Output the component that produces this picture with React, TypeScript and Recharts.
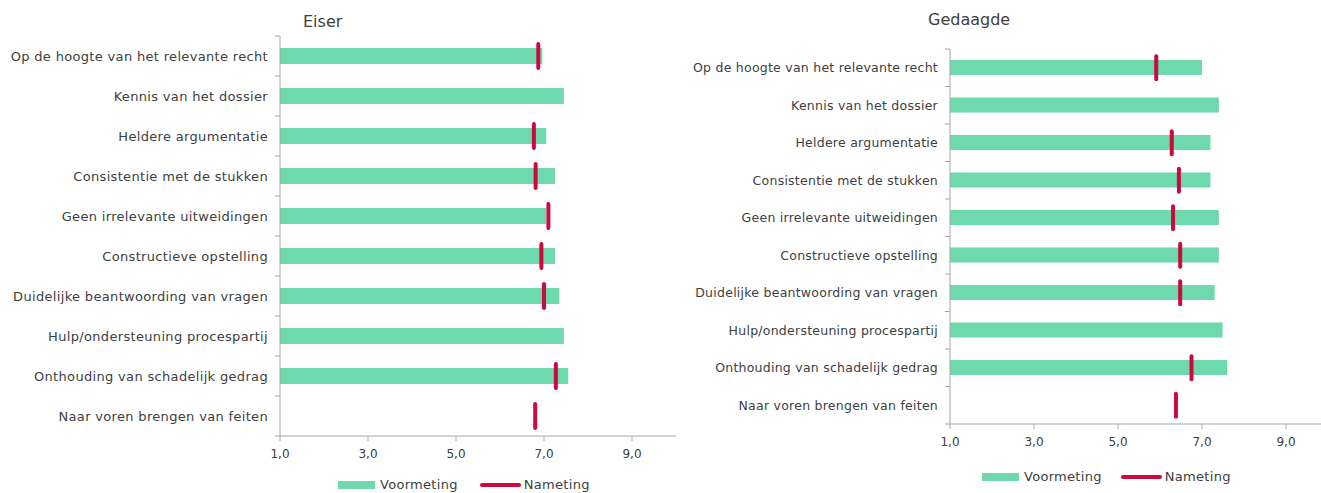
import {
  ComposedChart,
  Bar,
  Scatter,
  XAxis,
  YAxis,
} from "recharts";

const categories = [
  "Op de hoogte van het relevante recht",
  "Kennis van het dossier",
  "Heldere argumentatie",
  "Consistentie met de stukken",
  "Geen irrelevante uitweidingen",
  "Constructieve opstelling",
  "Duidelijke beantwoording van vragen",
  "Hulp/ondersteuning procespartij",
  "Onthouding van schadelijk gedrag",
  "Naar voren brengen van feiten",
];

// Eiser
const eiserVoormeting = [6.96, 7.45, 7.05, 7.25, 7.05, 7.25, 7.35, 7.45, 7.55, null];
const eiserNameting = [6.87, null, 6.77, 6.81, 7.1, 6.94, 7.0, null, 7.27, 6.8];

// Gedaagde
const gedaagdeVoormeting = [7.0, 7.4, 7.2, 7.2, 7.4, 7.4, 7.3, 7.49, 7.6, null];
const gedaagdeNameting = [5.91, null, 6.28, 6.45, 6.31, 6.48, 6.48, null, 6.75, 6.38];

const xTicks = [1, 3, 5, 7, 9];

const GREEN = "#6dd9ad";
const RED = "#cc0a3e";
const AXIS = "#a6a6a6";
const TEXT = "#404040";
const FONT = "'DejaVu Sans', Verdana, sans-serif";

const buildRows = (voor: (number | null)[], na: (number | null)[]) =>
  categories.map((name, i) => ({ name, voor: voor[i], na: na[i] }));

const eiserRows = buildRows(eiserVoormeting, eiserNameting);
const gedaagdeRows = buildRows(gedaagdeVoormeting, gedaagdeNameting);

type PanelProps = {
  rows: { name: string; voor: number | null; na: number | null }[];
  width: number;
  height: number;
  axisX: number; // left edge of plot inside svg
  top: number;
  plotBottom: number;
  barSize: number;
  markerH: number;
  labelSize: number;
  labelSpacing: number;
};

const Panel = ({
  rows, width, height, axisX, top, plotBottom, barSize, markerH, labelSize, labelSpacing,
}: PanelProps) => {
  const band = (plotBottom - top) / rows.length;

  // category labels, plus the small ticks between the bands (Excel style)
  const CatTick = (props: any) => {
    const { y, payload, index } = props;
    return (
      <g>
        <line x1={axisX - 5} x2={axisX} y1={y - band / 2} y2={y - band / 2} stroke={AXIS} />
        {index === rows.length - 1 && (
          <line x1={axisX - 5} x2={axisX} y1={y + band / 2} y2={y + band / 2} stroke={AXIS} />
        )}
        <text
          x={axisX - 12}
          y={y}
          dy={4.5}
          textAnchor="end"
          fill={TEXT}
          fontSize={labelSize}
          letterSpacing={labelSpacing}
          fontFamily={FONT}
        >
          {payload.value}
        </text>
      </g>
    );
  };

  const Marker = (props: any) => {
    const { cx, cy, payload } = props;
    if (payload?.na == null || cx == null || Number.isNaN(cx)) return <g />;
    return (
      <line
        x1={cx}
        x2={cx}
        y1={cy - markerH / 2}
        y2={cy + markerH / 2}
        stroke={RED}
        strokeWidth={4}
        strokeLinecap="round"
      />
    );
  };

  return (
    <ComposedChart
      layout="vertical"
      width={width}
      height={height}
      data={rows}
      margin={{ top, right: 0, left: 0, bottom: height - plotBottom - 30 }}
      style={{ fontFamily: FONT }}
    >
      <XAxis
        type="number"
        domain={[1, 10]}
        ticks={xTicks}
        allowDataOverflow
        height={30}
        tickSize={5}
        tickMargin={8}
        stroke={AXIS}
        tick={{ fill: TEXT, fontSize: 12, fontFamily: FONT }}
        tickFormatter={(v) => Number(v).toFixed(1).replace(".", ",")}
      />
      <YAxis
        type="category"
        dataKey="name"
        width={axisX}
        stroke={AXIS}
        tickLine={false}
        tick={CatTick}
        interval={0}
      />
      <Bar dataKey="voor" fill={GREEN} barSize={barSize} isAnimationActive={false} />
      <Scatter dataKey="na" shape={Marker} isAnimationActive={false} />
    </ComposedChart>
  );
};

const LegendBox = ({ left, top, gap }: { left: number; top: number; gap: number }) => (
  <div
    style={{
      position: "absolute",
      left,
      top,
      display: "flex",
      alignItems: "center",
      fontFamily: FONT,
      fontSize: 13,
      letterSpacing: 0.3,
      color: TEXT,
      whiteSpace: "nowrap",
    }}
  >
    <span style={{ width: 37, height: 8, background: GREEN, display: "inline-block", marginRight: 5 }} />
    <span>Voormeting</span>
    <span
      style={{
        width: 41,
        height: 4,
        borderRadius: 2,
        background: RED,
        display: "inline-block",
        marginLeft: gap,
        marginRight: 3,
      }}
    />
    <span>Nameting</span>
  </div>
);

const titleStyle = {
  position: "absolute" as const,
  fontFamily: FONT,
  fontSize: 16,
  lineHeight: "18px",
  color: TEXT,
};

export default function App() {
  return (
    <div
      style={{
        position: "fixed",
        left: 0,
        top: 0,
        width: 1321,
        height: 493,
        background: "#fff",
        overflow: "hidden",
      }}
    >
      <div style={{ ...titleStyle, left: 303, top: 13 }}>Eiser</div>
      <div style={{ position: "absolute", left: 0, top: 0 }}>
        <Panel
          rows={eiserRows}
          width={676}
          height={493}
          axisX={280}
          top={36}
          plotBottom={436}
          barSize={16}
          markerH={24}
          labelSize={13}
          labelSpacing={0.33}
        />
      </div>
      <LegendBox left={338} top={477} gap={22} />

      <div style={{ ...titleStyle, left: 928, top: 11 }}>Gedaagde</div>
      <div style={{ position: "absolute", left: 680, top: 0 }}>
        <Panel
          rows={gedaagdeRows}
          width={648}
          height={493}
          axisX={270}
          top={49}
          plotBottom={424}
          barSize={15}
          markerH={23}
          labelSize={12.5}
          labelSpacing={0.25}
        />
      </div>
      <LegendBox left={982} top={469} gap={19} />
    </div>
  );
}
